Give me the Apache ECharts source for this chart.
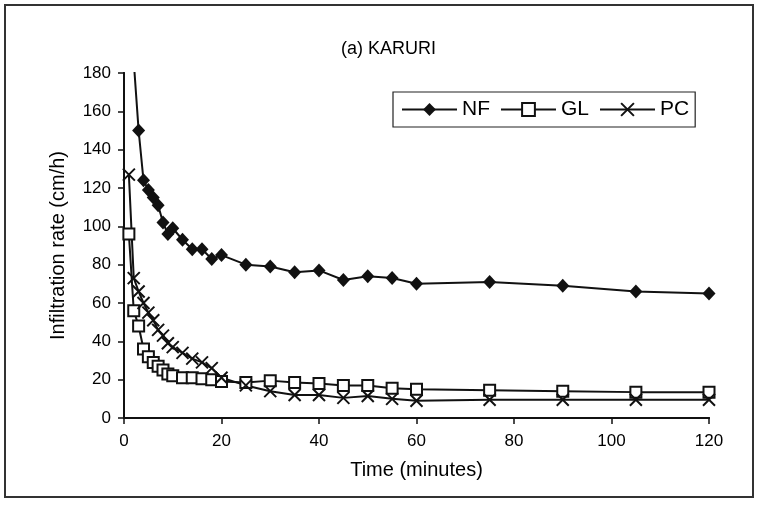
<!DOCTYPE html>
<html>
<head>
<meta charset="utf-8">
<script src="https://cdn.jsdelivr.net/npm/echarts@6/dist/echarts.min.js"></script>
<style>
html,body{margin:0;padding:0;background:#fff;}
#chart{width:761px;height:505px;}
</style>
</head>
<body>
<div id="chart"></div>
<script>
// ---- data ----
var titleText = "(a) KARURI";
var xName = "Time (minutes)";
var yName = "Infiltration rate (cm/h)";
var seriesNames = ["NF", "GL", "PC"];

var timesNF = [2, 3, 4, 5, 6, 7, 8, 9, 10, 12, 14, 16, 18, 20, 25, 30, 35, 40, 45, 50, 55, 60, 75, 90, 105, 120];
var valuesNF = [186, 150, 124, 119, 115, 111, 102, 96, 99, 93, 88, 88, 83, 85, 80, 79, 76, 77, 72, 74, 73, 70, 71, 69, 66, 65];

var timesGLPC = [1, 2, 3, 4, 5, 6, 7, 8, 9, 10, 12, 14, 16, 18, 20, 25, 30, 35, 40, 45, 50, 55, 60, 75, 90, 105, 120];
var valuesGL = [96, 56, 48, 36, 32, 29, 27, 25, 23, 22, 21, 21, 20.5, 20, 19, 18.5, 19.5, 18.5, 18, 17, 17, 15.5, 15, 14.5, 14, 13.5, 13.5];
var valuesPC = [127, 73, 66, 60, 55, 51, 46, 43, 39, 37, 34, 31, 29, 26, 21, 17, 14, 12, 12, 10.5, 11.5, 10, 9, 9.5, 9.5, 9.5, 9.5];

var xTicks = [0, 20, 40, 60, 80, 100, 120];
var yTicks = [0, 20, 40, 60, 80, 100, 120, 140, 160, 180];

// ---- build ----
function pairs(t, v) { return t.map(function (x, i) { return [x, v[i]]; }); }

var FONT = '"Liberation Sans", Arial, sans-serif';
var INK = '#000';
var xPath = 'path://M0,0L10,10M10,0L0,10';

var chart = echarts.init(document.getElementById('chart'), null, {renderer: 'canvas'});
chart.setOption({
  backgroundColor: '#fff',
  animation: false,
  title: {
    text: titleText,
    left: 336, top: 35,
    textStyle: {fontFamily: FONT, fontSize: 18, fontWeight: 'normal', color: INK}
  },
  graphic: [{
    type: 'rect',
    shape: {x: 5, y: 5, width: 748, height: 492},
    style: {fill: 'none', stroke: '#333', lineWidth: 2},
    silent: true
  }],
  legend: {
    left: 393, top: 92,
    padding: [7, 6, 7, 8],
    itemGap: 10,
    itemWidth: 55, itemHeight: 16,
    borderColor: '#222', borderWidth: 1.2,
    textStyle: {fontFamily: FONT, fontSize: 21, color: INK, padding: [0, 0, 0, 0]},
    data: seriesNames
  },
  grid: {left: 124, right: 52, top: 73, bottom: 87, containLabel: false},
  xAxis: [{
    type: 'value', min: xTicks[0], max: xTicks[xTicks.length - 1], interval: xTicks[1] - xTicks[0],
    name: xName, nameLocation: 'middle', nameGap: 42,
    nameTextStyle: {fontFamily: FONT, fontSize: 20, color: INK},
    axisLine: {show: true, onZero: false, lineStyle: {color: '#111', width: 2}},
    axisTick: {show: true, length: 6, lineStyle: {color: '#111', width: 1.5}},
    axisLabel: {fontFamily: FONT, fontSize: 17, color: INK, margin: 15},
    splitLine: {show: false}
  }, {
    type: 'value', position: 'top', min: 0, max: 120,
    axisLine: {show: true, lineStyle: {color: '#111', width: 2}},
    axisTick: {show: false}, axisLabel: {show: false}, splitLine: {show: false}
  }],
  yAxis: [{
    type: 'value', min: yTicks[0], max: yTicks[yTicks.length - 1], interval: yTicks[1] - yTicks[0],
    name: yName, nameLocation: 'middle', nameGap: 56, nameRotate: 90,
    nameTextStyle: {fontFamily: FONT, fontSize: 20, color: INK},
    axisLine: {show: true, onZero: false, lineStyle: {color: '#111', width: 2}},
    axisTick: {show: true, length: 6, lineStyle: {color: '#111', width: 1.5}},
    axisLabel: {fontFamily: FONT, fontSize: 17, color: INK, margin: 13},
    splitLine: {show: false}
  }, {
    type: 'value', position: 'right', min: 0, max: 180,
    axisLine: {show: true, lineStyle: {color: '#111', width: 2}},
    axisTick: {show: false}, axisLabel: {show: false}, splitLine: {show: false}
  }],
  series: [{
    name: seriesNames[0], type: 'line',
    data: pairs(timesNF, valuesNF),
    symbol: 'diamond', symbolSize: [13, 14],
    lineStyle: {color: '#111', width: 2},
    itemStyle: {color: '#111', borderColor: '#111', borderWidth: 0},
    clip: true, z: 3
  }, {
    name: seriesNames[1], type: 'line',
    data: pairs(timesGLPC, valuesGL),
    symbol: 'rect', symbolSize: 11,
    lineStyle: {color: '#111', width: 2},
    itemStyle: {color: '#fff', borderColor: '#111', borderWidth: 2},
    clip: true, z: 2
  }, {
    name: seriesNames[2], type: 'line',
    data: pairs(timesGLPC, valuesPC),
    symbol: xPath, symbolSize: 12,
    lineStyle: {color: '#111', width: 2},
    itemStyle: {color: 'none', borderColor: '#111', borderWidth: 2},
    clip: true, z: 2
  }]
});
</script>
</body>
</html>
